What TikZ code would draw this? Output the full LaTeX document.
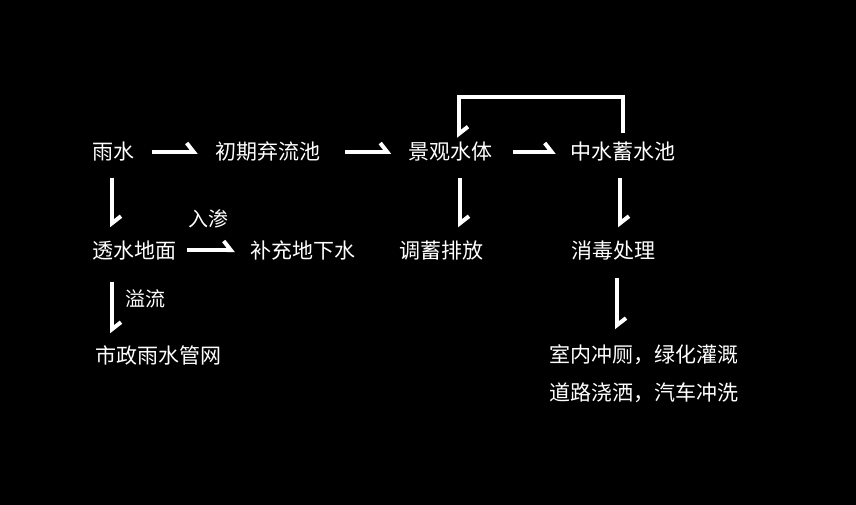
\documentclass[tikz,border=0pt]{standalone}
\usepackage{fontspec}
\newfontfamily\cjk{Noto Sans CJK SC}
\usetikzlibrary{arrows.meta,calc}

\begin{document}
\begin{tikzpicture}[x=1pt,y=-1pt,
	box/.style={inner sep=0pt, text=white, font=\cjk\fontsize{21}{38}\selectfont, text height=18.5pt, text depth=2.5pt},
	note/.style={inner sep=0pt, text=white, font=\cjk\fontsize{20}{24}\selectfont},
	flow/.style={draw=white, line width=4pt, -{Straight Barb[left,length=7pt,width=18pt]}}]
	%%%%% START %%%%%
	
	\fill[black] (0,0) rectangle (856,505);
	\useasboundingbox (0,0) rectangle (856,505);
	
	\node[box] (yushui) at (113.5,152) {雨水};
	\node[box] (qiliu) at (267.5,152) {初期弃流池};
	\node[box] (jingguan) at (450.5,152) {景观水体};
	\node[box] (zhongshui) at (622.5,152) {中水蓄水池};
	
	\node[box] (toushui) at (134.5,250) {透水地面};
	\node[box] (buchong) at (302.5,250) {补充地下水};
	\node[box] (tiaoxu) at (441.5,250) {调蓄排放};
	\node[box] (xiaodu) at (613.5,250) {消毒处理};
	
	\node[box] (shizheng) at (158,355) {市政雨水管网};
	\node[box, align=center] (yongtu) at (644,392) {室内冲厕，绿化灌溉\\道路浇洒，汽车冲洗};
	
	\node[note] (rushen) at (208,219) {入渗};
	\node[note] (yiliu) at (145,299) {溢流};
	
	% top row
	\draw[flow, shorten <=17pt, shorten >=17pt] (yushui.east) -- (qiliu.west);
	\draw[flow, shorten <=25pt, shorten >=17pt] (qiliu.east) -- (jingguan.west);
	\draw[flow, shorten <=20pt, shorten >=14pt] (jingguan.east) -- (zhongshui.west);
	
	% down arrows
	\draw[flow] ([xshift=-1.5pt,yshift=-15pt]yushui.south) -- ([xshift=-1.5pt,yshift=12pt]yushui.south |- toushui.north);
	\draw[flow] ([xshift=9.5pt,yshift=-15pt]jingguan.south) -- ([xshift=9.5pt,yshift=12pt]jingguan.south |- tiaoxu.north);
	\draw[flow] ([xshift=-2.5pt,yshift=-15pt]zhongshui.south) -- ([xshift=-2.5pt,yshift=12pt]zhongshui.south |- xiaodu.north);
	\draw[flow] ([xshift=-22.5pt,yshift=-21pt]toushui.south) -- ([xshift=-22.5pt,yshift=11pt]toushui.south |- shizheng.north);
	\draw[flow] ([xshift=3.5pt,yshift=-17.5pt]xiaodu.south) -- ++(0,51);
	
	% second row
	\draw[flow, shorten <=10pt, shorten >=15pt] (toushui.east) -- (buchong.west);
	
	% return loop
	\draw[flow] ([yshift=8.5pt]zhongshui.north) |- (459,97) -- ([xshift=8.5pt,yshift=3.5pt]jingguan.north);
	
	%%%%% END %%%%%
\end{tikzpicture}
\end{document}
